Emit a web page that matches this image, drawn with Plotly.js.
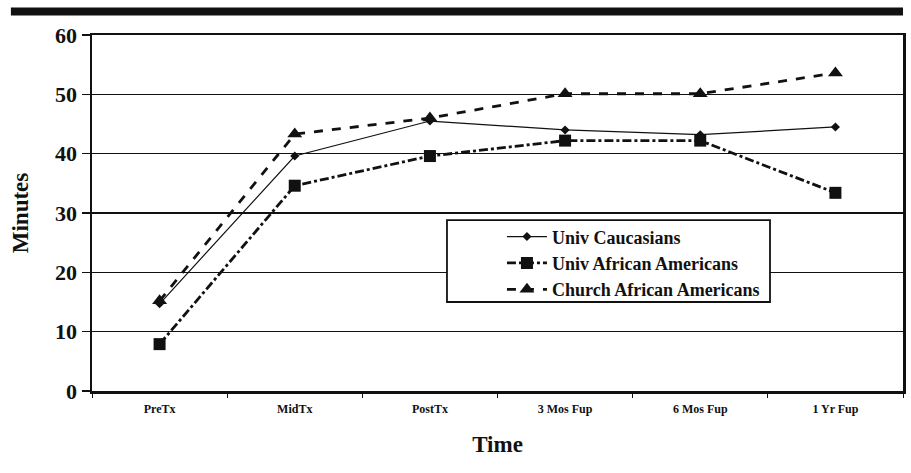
<!DOCTYPE html>
<html>
<head>
<meta charset="utf-8">
<script src="https://cdn.plot.ly/plotly-3.0.1.min.js"></script>
<style>html,body{margin:0;padding:0;background:#fff;}#chart{width:911px;height:473px;}</style>
</head>
<body>
<div id="chart"></div>
<script>
const categories = ["PreTx", "MidTx", "PostTx", "3 Mos Fup", "6 Mos Fup", "1 Yr Fup"];
const univCaucasians = [14.7, 39.6, 45.5, 44.0, 43.2, 44.5];
const univAfricanAmericans = [7.9, 34.6, 39.6, 42.2, 42.2, 33.4];
const churchAfricanAmericans = [15.2, 43.3, 46.0, 50.1, 50.1, 53.6];
const yTicks = [0, 10, 20, 30, 40, 50, 60];

const serif = "Liberation Serif, Times New Roman, serif";

const traces = [
  {
    x: categories, y: univCaucasians, name: "Univ Caucasians",
    type: "scatter", mode: "lines+markers",
    line: {color: "#111", width: 1.2, dash: "solid"},
    marker: {symbol: "diamond", size: 7, color: "#111"}
  },
  {
    x: categories, y: univAfricanAmericans, name: "Univ African Americans",
    type: "scatter", mode: "lines+markers",
    line: {color: "#111", width: 2.8, dash: "dashdot"},
    marker: {symbol: "square", size: 12, color: "#111"}
  },
  {
    x: categories, y: churchAfricanAmericans, name: "Church African Americans",
    type: "scatter", mode: "lines+markers",
    line: {color: "#111", width: 2.8, dash: "dash"},
    marker: {symbol: "triangle-up", size: 13, color: "#111"}
  }
];

const layout = {
  width: 911, height: 473,
  margin: {l: 92, r: 8, t: 35, b: 82},
  paper_bgcolor: "#fff", plot_bgcolor: "#fff",
  font: {family: serif, color: "#111"},
  showlegend: true,
  legend: {
    x: 0.5055, y: 0.485, xanchor: "left", yanchor: "top",
    bgcolor: "rgba(0,0,0,0)", borderwidth: 0,
    font: {family: serif, size: 18, color: "#111", weight: "bold"},
    itemwidth: 40
  },
  xaxis: {
    type: "category",
    tickson: "boundaries",
    ticks: "outside", ticklen: 4, tickcolor: "#111",
    showline: true, linecolor: "#111", linewidth: 2.5, mirror: true,
    showgrid: false, zeroline: false,
    ticklabelstandoff: 5,
    tickfont: {family: serif, size: 12, color: "#111", weight: "bold"},
    title: {text: "Time", font: {family: serif, size: 23, color: "#111", weight: "bold"}, standoff: 21},
    range: [-0.5, 5.5], fixedrange: true
  },
  yaxis: {
    range: [0, 60], tickvals: yTicks,
    ticks: "outside", ticklen: 8, tickcolor: "#111", tickwidth: 1.5,
    showline: true, linecolor: "#111", linewidth: 2.5, mirror: true,
    showgrid: true, gridcolor: "#111", gridwidth: 1.5, zeroline: false,
    tickfont: {family: serif, size: 22, color: "#111", weight: "bold"},
    title: {text: "Minutes", font: {family: serif, size: 23, color: "#111", weight: "bold"}, standoff: 20},
    fixedrange: true
  },
  shapes: [
    {type: "rect", xref: "paper", yref: "paper", x0: -0.1, x1: 1.0, y0: 1.055, y1: 1.077,
     fillcolor: "#111", line: {width: 0}},
    {type: "rect", xref: "paper", yref: "paper", x0: 0.4377, x1: 0.836, y0: 0.25, y1: 0.48,
     fillcolor: "#fff", line: {color: "#111", width: 1.8}, layer: "above"}
  ]
};

Plotly.newPlot("chart", traces, layout, {displayModeBar: false, staticPlot: true});
</script>
</body>
</html>
